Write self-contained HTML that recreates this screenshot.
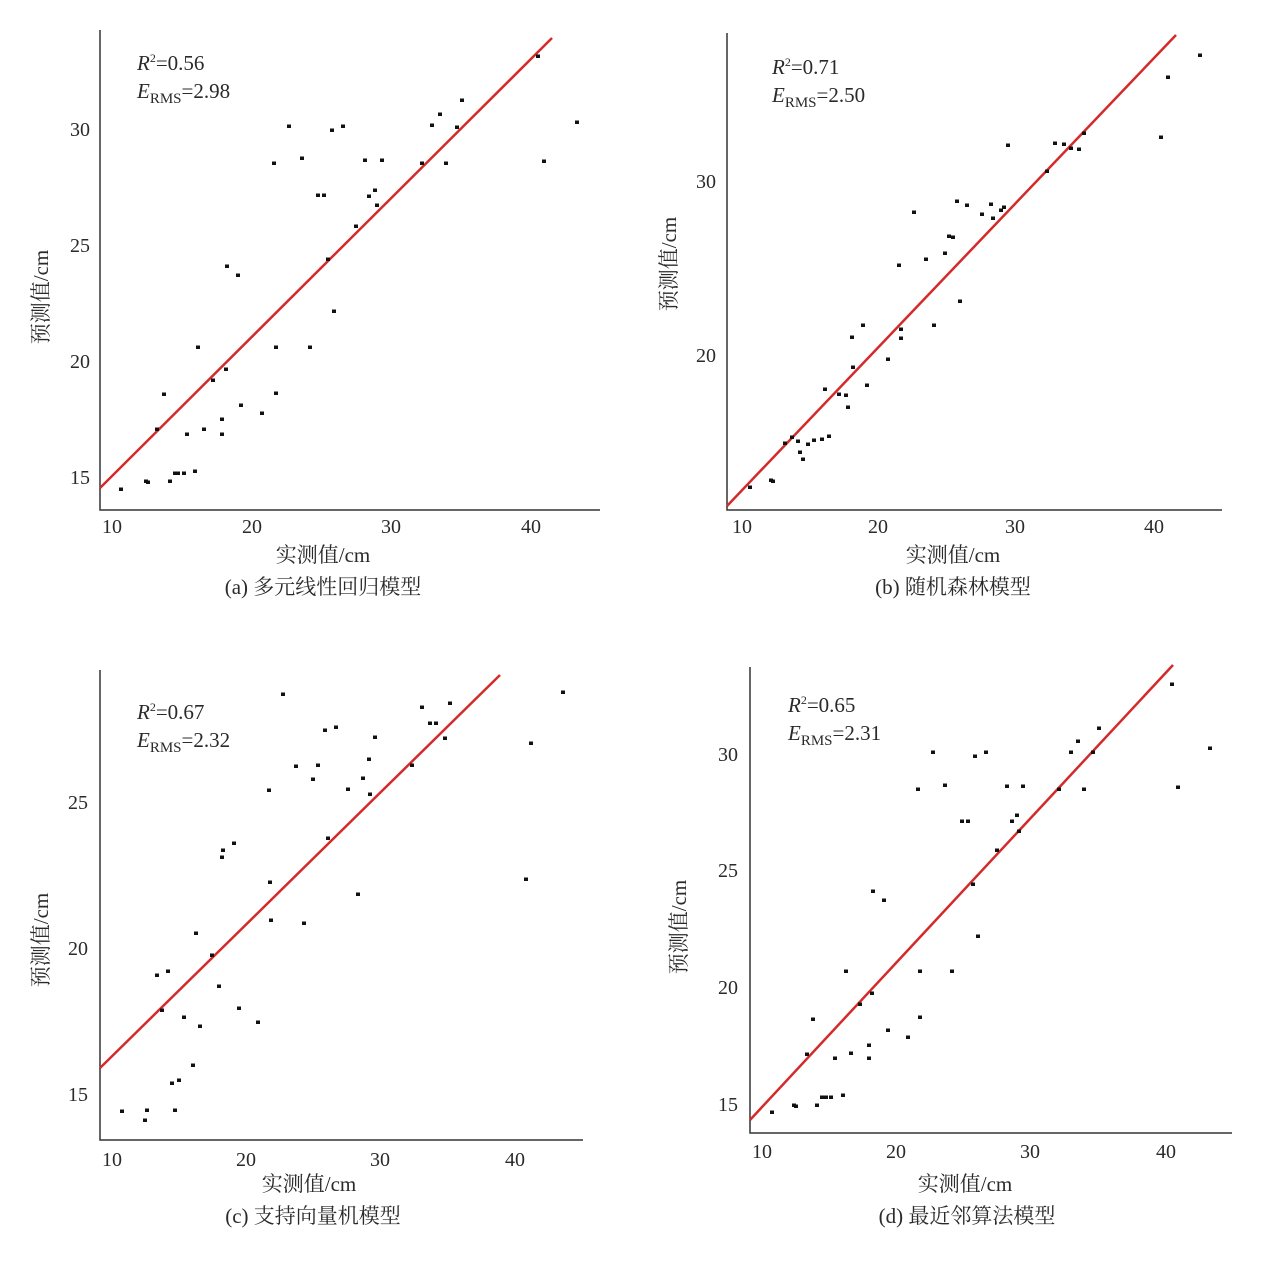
<!DOCTYPE html>
<html><head><meta charset="utf-8"><style>
body{margin:0;background:#fff}
text{font-family:"Liberation Serif","Noto Serif CJK SC",serif;fill:#2a2a2a}
.t{font-size:20px}
.l{font-size:21px}
</style></head><body>
<svg width="1270" height="1265" xmlns="http://www.w3.org/2000/svg">
<g stroke="#333" stroke-width="1.5" fill="none">
<path d="M100,30V510H600"/><path d="M727,33V510H1222"/>
<path d="M100,670V1140H583"/><path d="M750,667V1133H1232"/>
</g>
<g stroke="#d42a2a" stroke-width="2.5">
<line x1="100" y1="488" x2="552" y2="38"/>
<line x1="727" y1="506" x2="1176" y2="35"/>
<line x1="100" y1="1068" x2="500" y2="675"/>
<line x1="750" y1="1120" x2="1173" y2="665"/>
</g>
<g fill="#111" id="pts"></g>
<g class="t">
<text x="112" y="533" text-anchor="middle">10</text><text x="252" y="533" text-anchor="middle">20</text><text x="391" y="533" text-anchor="middle">30</text><text x="531" y="533" text-anchor="middle">40</text>
<text x="90" y="136" text-anchor="end">30</text><text x="90" y="252" text-anchor="end">25</text><text x="90" y="368" text-anchor="end">20</text><text x="90" y="484" text-anchor="end">15</text>
<text x="742" y="533" text-anchor="middle">10</text><text x="878" y="533" text-anchor="middle">20</text><text x="1015" y="533" text-anchor="middle">30</text><text x="1154" y="533" text-anchor="middle">40</text>
<text x="716" y="188" text-anchor="end">30</text><text x="716" y="362" text-anchor="end">20</text>
<text x="112" y="1166" text-anchor="middle">10</text><text x="246" y="1166" text-anchor="middle">20</text><text x="380" y="1166" text-anchor="middle">30</text><text x="515" y="1166" text-anchor="middle">40</text>
<text x="88" y="809" text-anchor="end">25</text><text x="88" y="955" text-anchor="end">20</text><text x="88" y="1101" text-anchor="end">15</text>
<text x="762" y="1158" text-anchor="middle">10</text><text x="896" y="1158" text-anchor="middle">20</text><text x="1030" y="1158" text-anchor="middle">30</text><text x="1166" y="1158" text-anchor="middle">40</text>
<text x="738" y="761" text-anchor="end">30</text><text x="738" y="877" text-anchor="end">25</text><text x="738" y="994" text-anchor="end">20</text><text x="738" y="1111" text-anchor="end">15</text>
</g>
<g class="l">
<text x="137" y="70"><tspan font-style="italic">R</tspan><tspan font-size="12" dy="-8">2</tspan><tspan dy="8">=0.56</tspan></text>
<text x="137" y="98"><tspan font-style="italic">E</tspan><tspan font-size="15" dy="5">RMS</tspan><tspan dy="-5">=2.98</tspan></text>
<text x="772" y="74"><tspan font-style="italic">R</tspan><tspan font-size="12" dy="-8">2</tspan><tspan dy="8">=0.71</tspan></text>
<text x="772" y="102"><tspan font-style="italic">E</tspan><tspan font-size="15" dy="5">RMS</tspan><tspan dy="-5">=2.50</tspan></text>
<text x="137" y="719"><tspan font-style="italic">R</tspan><tspan font-size="12" dy="-8">2</tspan><tspan dy="8">=0.67</tspan></text>
<text x="137" y="747"><tspan font-style="italic">E</tspan><tspan font-size="15" dy="5">RMS</tspan><tspan dy="-5">=2.32</tspan></text>
<text x="788" y="712"><tspan font-style="italic">R</tspan><tspan font-size="12" dy="-8">2</tspan><tspan dy="8">=0.65</tspan></text>
<text x="788" y="740"><tspan font-style="italic">E</tspan><tspan font-size="15" dy="5">RMS</tspan><tspan dy="-5">=2.31</tspan></text>
<text x="323" y="562" text-anchor="middle">实测值/cm</text>
<text x="323" y="594" text-anchor="middle">(a) 多元线性回归模型</text>
<text x="953" y="562" text-anchor="middle">实测值/cm</text>
<text x="953" y="594" text-anchor="middle">(b) 随机森林模型</text>
<text x="309" y="1191" text-anchor="middle">实测值/cm</text>
<text x="313" y="1223" text-anchor="middle">(c) 支持向量机模型</text>
<text x="965" y="1191" text-anchor="middle">实测值/cm</text>
<text x="967" y="1223" text-anchor="middle">(d) 最近邻算法模型</text>
<text transform="translate(48,297) rotate(-90)" text-anchor="middle">预测值/cm</text>
<text transform="translate(676,264) rotate(-90)" text-anchor="middle">预测值/cm</text>
<text transform="translate(48,940) rotate(-90)" text-anchor="middle">预测值/cm</text>
<text transform="translate(686,927) rotate(-90)" text-anchor="middle">预测值/cm</text>
</g>
</svg>
<script>
var P=[[121,489],[146,481],[148,482],[157,429],[164,394],[170,481],[175,473],[178,473],[184,473],[187,434],[195,471],[198,347],[204,429],[213,380],[222,419],[222,434],[226,369],[227,266],[238,275],[241,405],[262,413],[274,163],[276,347],[276,393],[289,126],[302,158],[310,347],[318,195],[324,195],[328,259],[332,130],[334,311],[343,126],[356,226],[365,160],[369,196],[375,190],[377,205],[382,160],[422,163],[432,125],[440,114],[446,163],[457,127],[462,100],[538,56],[544,161],[577,122],
[750,487],[771,480],[773,481],[785,443],[792,437],[798,441],[800,452],[803,459],[808,444],[814,440],[822,439],[829,436],[825,389],[839,394],[846,395],[848,407],[852,337],[853,367],[863,325],[867,385],[888,359],[899,265],[901,338],[901,329],[914,212],[926,259],[934,325],[945,253],[949,236],[953,237],[957,201],[960,301],[967,205],[982,214],[991,204],[993,218],[1001,210],[1004,207],[1008,145],[1047,171],[1055,143],[1064,144],[1071,148],[1079,149],[1084,133],[1161,137],[1168,77],[1200,55],
[122,1111],[145,1120],[147,1110],[157,975],[162,1010],[168,971],[172,1083],[175,1110],[179,1080],[184,1017],[193,1065],[196,933],[200,1026],[212,955],[219,986],[222,857],[223,850],[234,843],[239,1008],[258,1022],[269,790],[270,882],[271,920],[283,694],[296,766],[304,923],[313,779],[318,765],[325,730],[328,838],[336,727],[348,789],[358,894],[363,778],[369,759],[370,794],[375,737],[412,765],[422,707],[430,723],[436,723],[445,738],[450,703],[526,879],[531,743],[563,692],
[772,1112],[794,1105],[796,1106],[807,1054],[813,1019],[817,1105],[822,1097],[826,1097],[831,1097],[835,1058],[843,1095],[846,971],[851,1053],[860,1004],[869,1045],[869,1058],[872,993],[873,891],[884,900],[888,1030],[908,1037],[918,789],[920,971],[920,1017],[933,752],[945,785],[952,971],[962,821],[968,821],[973,884],[975,756],[978,936],[986,752],[997,850],[1007,786],[1012,821],[1017,815],[1019,831],[1023,786],[1059,789],[1071,752],[1078,741],[1084,789],[1093,752],[1099,728],[1172,684],[1178,787],[1210,748]];
var g=document.getElementById('pts'),s='';
P.forEach(function(p){s+='<rect x="'+(p[0]-2)+'" y="'+(p[1]-1.5)+'" width="4" height="3.5"/>';});
g.innerHTML=s;
</script>
</body></html>
